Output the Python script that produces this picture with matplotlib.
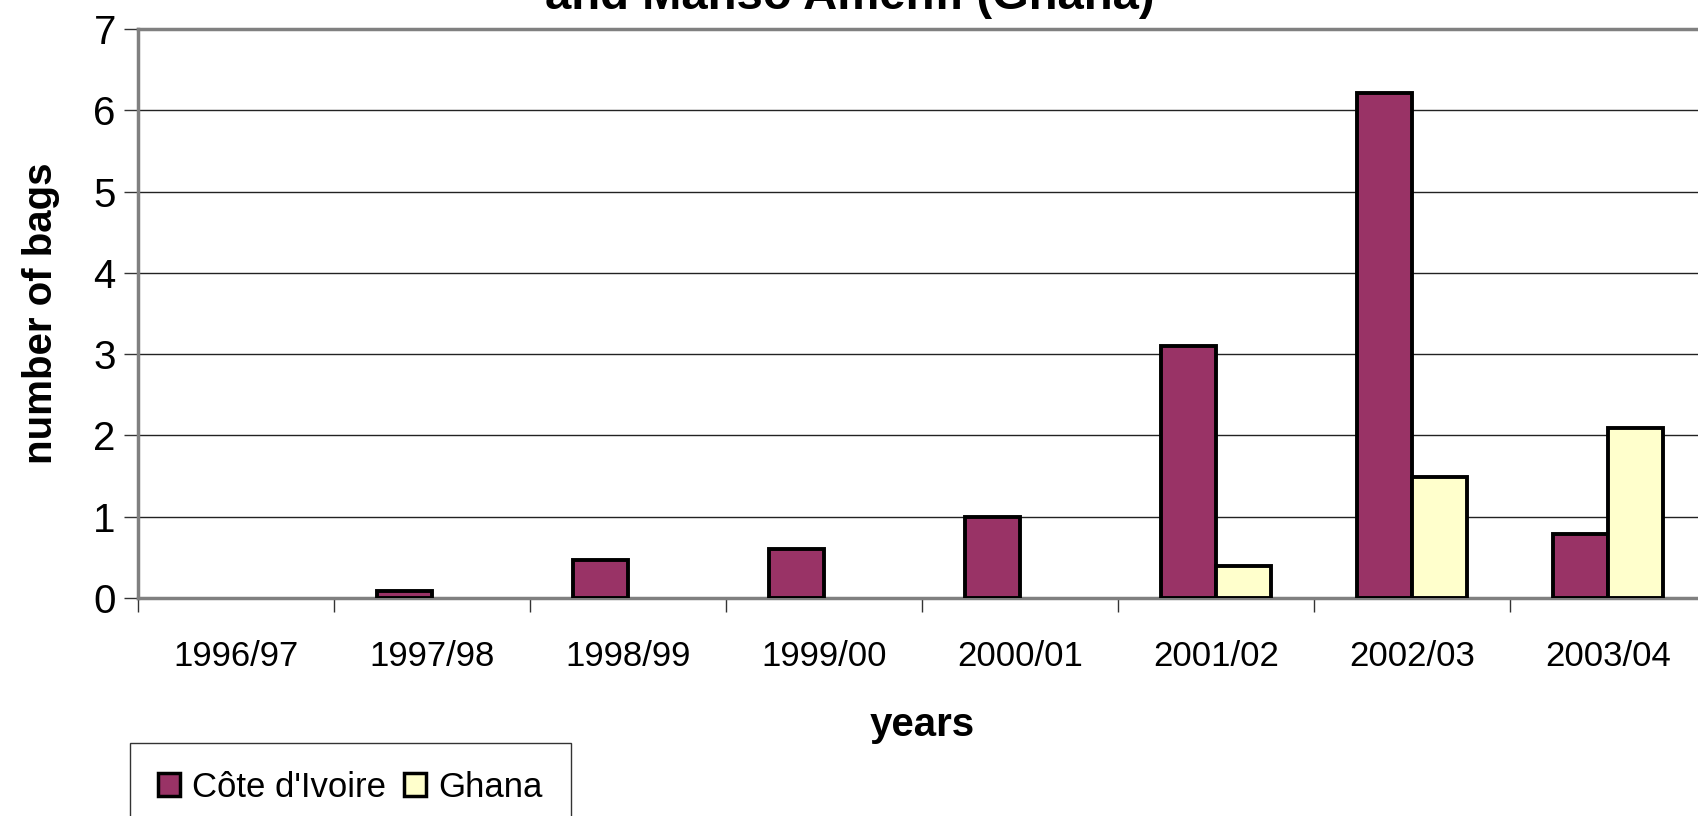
"""Bar chart of bags per season for Côte d'Ivoire and Ghana."""

import matplotlib
matplotlib.use("Agg")
import matplotlib.pyplot as plt
import numpy as np

seasons = ["1996/97", "1997/98", "1998/99", "1999/00",
           "2000/01", "2001/02", "2002/03", "2003/04"]
cote_divoire = [0.0, 0.08, 0.47, 0.6, 1.0, 3.1, 6.21, 0.79]
ghana = [0.0, 0.0, 0.0, 0.0, 0.0, 0.39, 1.49, 2.09]

PURPLE = "#993366"
CREAM = "#FFFFCC"


def _bars(ax, xpos, values, width, color, label):
    """Draw one series; zero values are left out, as in the original."""
    values = np.asarray(values)
    keep = values > 0
    return ax.bar(xpos[keep], values[keep], width, color=color,
                  edgecolor="black", linewidth=2.8, label=label, zorder=3)


def main():
    plt.rcParams["font.family"] = ["Liberation Sans", "DejaVu Sans"]

    fig = plt.figure(figsize=(16.99, 8.16), dpi=100)
    ax = fig.add_axes([138 / 1699, 218 / 816, 1568 / 1699, 569 / 816])

    x = np.arange(len(seasons))
    width = 0.28
    _bars(ax, x - width / 2, cote_divoire, width, PURPLE, "Côte d'Ivoire")
    _bars(ax, x + width / 2, ghana, width, CREAM, "Ghana")

    ax.set_xlim(-0.5, len(seasons) - 0.5)
    ax.set_ylim(0, 7)
    ax.set_yticks(range(0, 8))
    ax.yaxis.grid(True, color="#222222", linewidth=1.0, zorder=0)

    ax.set_xticks(x)
    ax.set_xticklabels(seasons, fontsize=25)
    ax.set_xticks(np.arange(-0.5, len(seasons)), minor=True)
    ax.tick_params(axis="x", which="major", length=0, pad=30)
    ax.tick_params(axis="x", which="minor", length=10, width=1, color="#333333")
    ax.tick_params(axis="y", labelsize=29, length=10, width=1,
                   color="#333333", pad=6)

    for side in ["left", "bottom", "top", "right"]:
        ax.spines[side].set_color("#808080")
        ax.spines[side].set_linewidth(2.5)

    ax.set_ylabel("number of bags", fontsize=29, fontweight="bold", labelpad=24)
    ax.set_xlabel("years", fontsize=29, fontweight="bold", labelpad=24)

    fig.text(0.5, 1 - 9 / 816, "and Manso Amenfi (Ghana)", ha="center",
             va="baseline", fontsize=34, fontweight="bold")

    leg = fig.legend(loc="upper left", bbox_to_anchor=(130 / 1699, 1 - 743 / 816),
                     ncol=2, fontsize=25, frameon=True, fancybox=False,
                     edgecolor="black", borderaxespad=0, borderpad=0.8,
                     handlelength=0.65, handleheight=0.65, handletextpad=0.35,
                     columnspacing=0.5)
    leg.get_frame().set_linewidth(1.0)
    for patch in leg.get_patches():
        patch.set_linewidth(2.5)

    fig.savefig("out.png", dpi=100)


if __name__ == "__main__":
    main()
